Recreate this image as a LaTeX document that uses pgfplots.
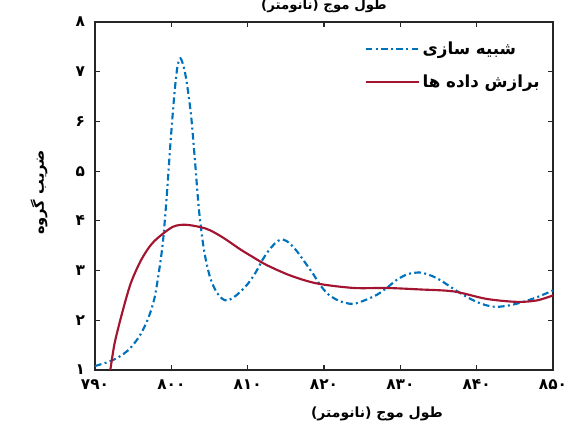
\documentclass[border=0pt]{standalone}
\usepackage{fontspec}
\usepackage{pgfplots}
\pgfplotsset{compat=1.18}
\TeXXeTstate=1
\newfontfamily\arabicfont[Script=Arabic]{DejaVu Sans}
\definecolor{simblue}{RGB}{0,114,189}
\definecolor{fitred}{RGB}{162,20,47}
\begin{document}
\begin{tikzpicture}
\begin{axis}[
  scale only axis,
  width=343.5pt, height=261pt,
  xmin=790, xmax=850, ymin=1, ymax=8,
  xtick={790,800,810,820,830,840,850},
  xticklabels={۷۹۰,۸۰۰,۸۱۰,۸۲۰,۸۳۰,۸۴۰,۸۵۰},
  ytick={1,2,3,4,5,6,7,8},
  yticklabels={۱,۲,۳,۴,۵,۶,۷,۸},
  ticklabel style={font=\arabicfont\bfseries\fontsize{11.5}{12}\selectfont},
  xticklabel style={yshift=-3.5pt},
  yticklabel style={xshift=-4pt},
  tick align=inside,
  major tick length=4pt,
  axis line style={line width=1pt, black!85},
  every tick/.style={line width=0.8pt, black!85},
  title={\arabicfont\bfseries\fontsize{10}{11}\selectfont\beginR طول موج (نانومتر)\endR},
  title style={at={([yshift=6pt]axis description cs:0.5,1)}, anchor=center, inner sep=0pt},
  xlabel={\arabicfont\bfseries\fontsize{10.5}{12}\selectfont\beginR طول موج (نانومتر)\endR},
  xlabel style={at={([xshift=-1pt,yshift=-33pt]axis description cs:0.474,0)}, anchor=west, inner sep=0pt},
  ylabel={\arabicfont\bfseries\fontsize{11}{12}\selectfont\beginR ضریب گروه\endR},
  ylabel style={at={([xshift=-42pt]axis description cs:0,0.51)}, anchor=center},
  legend style={at={(axis description cs:0.986,0.96)}, anchor=north east, draw=none, fill=none,
    font=\arabicfont\bfseries\fontsize{12.5}{13}\selectfont, row sep=10pt},
  legend cell align=left,
  legend image code/.code={\draw[#1] (0pt,0pt) -- (40pt,0pt);},
]
\addplot[simblue, line width=1.6pt, smooth, tension=0.5,
  dash pattern=on 5pt off 2.5pt on 1.5pt off 2.5pt] coordinates {
 (790,1.08) (791.5,1.15) (793,1.25) (794.5,1.42) (795.9,1.70) (797,2.05) (797.8,2.45)
 (798.4,3.0) (798.9,3.58) (799.4,4.5) (799.9,5.59) (800.4,6.55) (800.8,7.1) (801.2,7.27)
 (801.7,7.05) (802.1,6.7) (802.6,6.1) (803.1,5.2) (803.6,4.25) (804.1,3.6) (804.5,3.23)
 (805.1,2.85) (805.9,2.57) (806.7,2.43) (807.4,2.40) (808.5,2.5) (809.9,2.71) (811.0,2.95)
 (812.0,3.23) (813.0,3.45) (814.0,3.6) (814.7,3.62) (815.5,3.55) (816.5,3.38) (817.3,3.21)
 (818.5,2.95) (819.5,2.71) (820.5,2.53) (821.7,2.41) (822.8,2.35) (823.9,2.33) (825.3,2.4)
 (826.9,2.51) (828.3,2.66) (829.5,2.81) (831,2.93) (832.6,2.96) (834,2.9) (835.2,2.81)
 (836.3,2.7) (837.4,2.59) (838.7,2.47) (840,2.37) (841.3,2.3) (842.6,2.27) (844.3,2.3)
 (846.1,2.37) (848,2.47) (850,2.6)
};
\addlegendentry{\beginR شبیه سازی\endR}
\addplot[fitred, line width=1.6pt, smooth, tension=0.5] coordinates {
 (791.5,0.6) (792.0,1.0) (792.6,1.56) (793.7,2.23) (794.7,2.75) (795.9,3.17) (797,3.45)
 (798.1,3.64) (800.2,3.88) (802.0,3.92) (804.6,3.84) (806.7,3.67) (809.0,3.43) (810.7,3.27)
 (812.5,3.11) (815.6,2.90) (819.1,2.74) (823.9,2.65) (828.2,2.65) (832.6,2.62) (837,2.58)
 (841.3,2.43) (845.3,2.37) (847.9,2.40) (850,2.5)
};
\addlegendentry{\beginR برازش داده ها\endR}
\end{axis}
\pgfresetboundingbox
\path[use as bounding box] ([xshift=-71.25pt,yshift=-39.75pt]current axis.south west) rectangle ([xshift=16.5pt,yshift=16.5pt]current axis.north east);
\end{tikzpicture}
\end{document}
